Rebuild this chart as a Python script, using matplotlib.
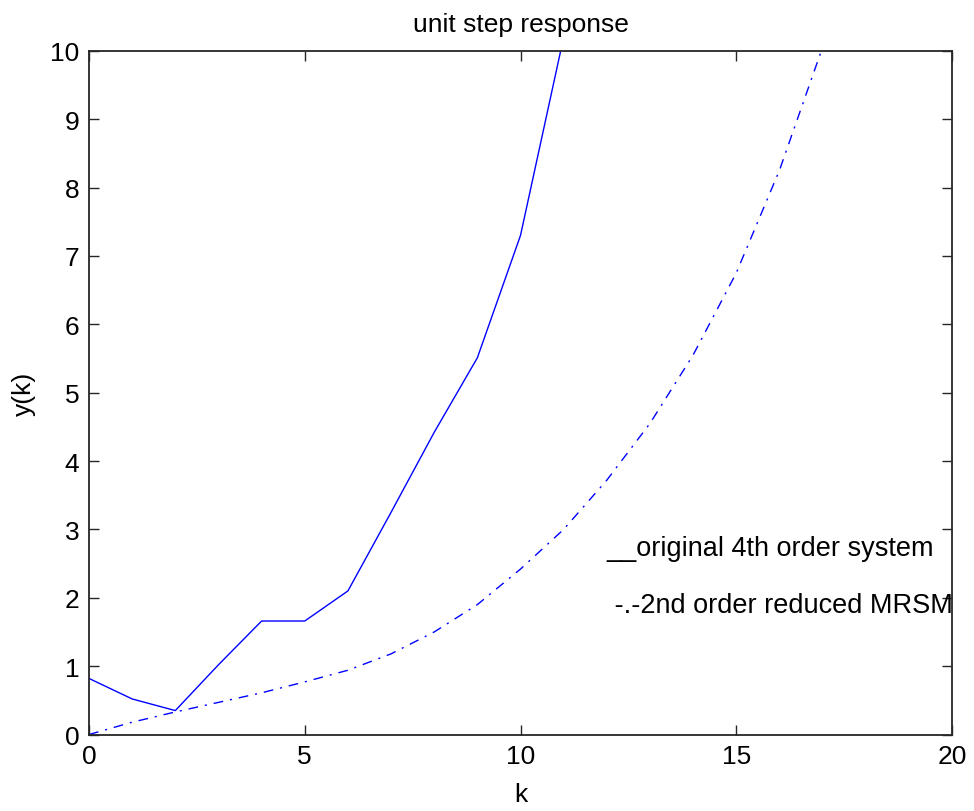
import numpy as np
import matplotlib
matplotlib.use('Agg')
import matplotlib.pyplot as plt

plt.rcParams['font.family'] = ['Liberation Sans', 'DejaVu Sans']

# sample index
k_orig = [0, 1, 2, 3, 4, 5, 6, 7, 8, 9, 10, 11]
y_orig = [0.82, 0.52, 0.35, 1.02, 1.66, 1.66, 2.10, 3.25, 4.42, 5.51, 7.30, 10.2]

k_red = [0, 1, 2, 3, 4, 5, 6, 7, 8, 9, 10, 11, 12, 13, 14, 15, 16, 17]
y_red = [0.0, 0.18, 0.33, 0.47, 0.61, 0.77, 0.94, 1.18, 1.50, 1.90, 2.42, 3.00,
         3.72, 4.55, 5.55, 6.75, 8.25, 10.05]

BLUE = '#0000ff'
FS = 19

fig = plt.figure(figsize=(9.74, 8.12), dpi=100)
ax = fig.add_axes([0.0914, 0.0942, 0.886, 0.842])

ax.plot(k_orig, y_orig, color=BLUE, lw=1.0)
ax.plot(k_red, y_red, color=BLUE, lw=1.0, ls=(0, (7, 5, 1.5, 5)))

ax.set_xlim(0, 20)
ax.set_ylim(0, 10)
ax.set_xticks(np.arange(0, 21, 5))
ax.set_yticks(np.arange(0, 11, 1))

ax.tick_params(direction='in', length=7, width=1.0, labelsize=FS,
               top=True, right=True, colors='0.15', labelcolor='black')
ax.tick_params(axis='x', pad=7)
ax.tick_params(axis='y', pad=7)
for sp in ax.spines.values():
    sp.set_linewidth(1.3)
    sp.set_color('0.15')

ax.set_title('unit step response', fontsize=FS, pad=14)
ax.set_xlabel('k', fontsize=FS, labelpad=10)
ax.set_ylabel('y(k)', fontsize=FS, labelpad=10)

ax.text(12, 2.73, '__original 4th order system', fontsize=19.5, va='center')
ax.text(12, 1.89, ' -.-2nd order reduced MRSM', fontsize=19.5, va='center')

fig.savefig('out.png', dpi=100)
plt.close(fig)
